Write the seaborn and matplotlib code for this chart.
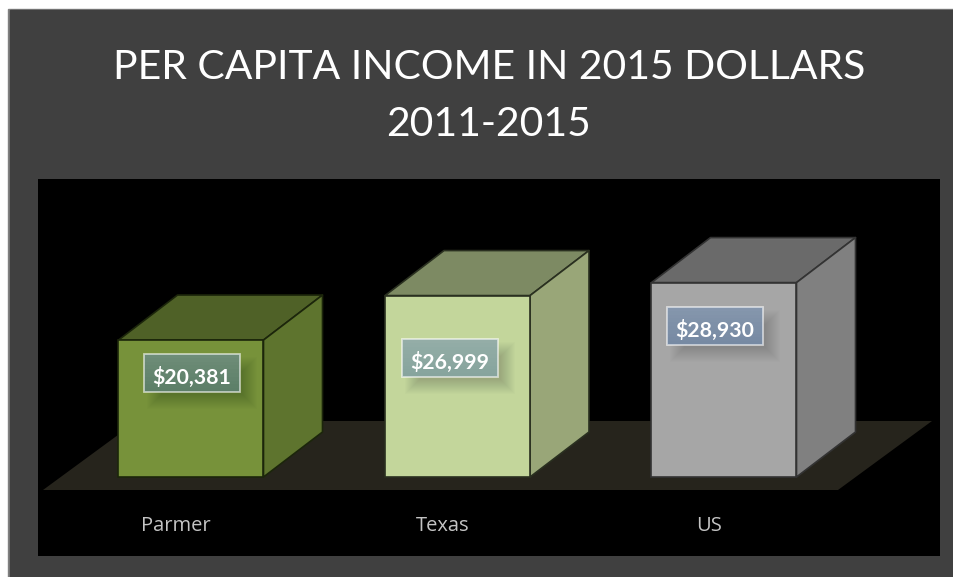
import matplotlib
matplotlib.use('Agg')
import matplotlib.pyplot as plt
from matplotlib.patches import Polygon, Rectangle
from matplotlib.transforms import ScaledTranslation
import seaborn as sns

# --- data ---
places = ['Parmer', 'Texas', 'US']
income = [20381, 26999, 28930]
value_labels = ['$20,381', '$26,999', '$28,930']

# --- colours ---
face_colors = ['#77923a', '#c3d69b', '#a6a6a6']
top_colors = ['#4f6127', '#7d8a63', '#6a6a6a']
side_colors = ['#5e742e', '#99a678', '#808080']
edge_colors = ['#1c260b', '#2a3020', '#333333']

# --- layout, px of the 954x577 canvas ---
W, H = 954, 577
PANEL = (38, 179, 940, 556)   # black plot area
BASE_Y = 477                  # pixel row of income = 0
PX_PER_USD = 0.00672
PX_PER_CAT = 266.5
FIRST_X = 191

sns.set_theme(style='white')
plt.rcParams['font.family'] = ['Lato', 'DejaVu Sans']

fig = plt.figure(figsize=(W / 100, H / 100), dpi=100, facecolor='white')
fig.patches.append(Rectangle((8 / W, 0), 1, 1 - 9 / H, transform=fig.transFigure, color='#808080', zorder=-3))
fig.patches.append(Rectangle((10 / W, 0), 1, 1 - 10 / H, transform=fig.transFigure, color='#404040', zorder=-2))

ax = fig.add_axes([PANEL[0] / W, 1 - PANEL[3] / H, (PANEL[2] - PANEL[0]) / W, (PANEL[3] - PANEL[1]) / H])
ax.set_facecolor('black')

sns.barplot(x=places, y=income, hue=places, palette=face_colors, saturation=1, width=145 / PX_PER_CAT,
            edgecolor='none', legend=False, ax=ax, zorder=3)

ax.set_xlim((PANEL[0] - FIRST_X) / PX_PER_CAT, (PANEL[2] - FIRST_X) / PX_PER_CAT)
ax.set_ylim((BASE_Y - PANEL[3]) / PX_PER_USD, (BASE_Y - PANEL[1]) / PX_PER_USD)

depth_x = 59 / PX_PER_CAT
depth_y = 45 / PX_PER_USD

# floor under the bars
floor_front = -13 / PX_PER_USD
floor_back = 56 / PX_PER_USD
floor_left = (43 - FIRST_X) / PX_PER_CAT
floor_right = (838 - FIRST_X) / PX_PER_CAT
floor_shift = 94 / PX_PER_CAT
ax.add_patch(Polygon([(floor_left, floor_front), (floor_right, floor_front),
                      (floor_right + floor_shift, floor_back), (floor_left + floor_shift, floor_back)],
                     closed=True, facecolor='#26241c', edgecolor='none', zorder=1))

# 3d sides built from the bars seaborn drew
for i, bar in enumerate(ax.patches[:len(places)]):
    x0 = bar.get_x()
    x1 = x0 + bar.get_width()
    h = bar.get_height()
    bar.set_edgecolor(edge_colors[i])
    bar.set_linewidth(1.2)
    ax.add_patch(Polygon([(x0, h), (x1, h), (x1 + depth_x, h + depth_y), (x0 + depth_x, h + depth_y)],
                         closed=True, facecolor=top_colors[i], edgecolor=edge_colors[i], lw=1.2, joinstyle='round', zorder=2))
    ax.add_patch(Polygon([(x1, 0), (x1 + depth_x, depth_y), (x1 + depth_x, h + depth_y), (x1, h)],
                         closed=True, facecolor=side_colors[i], edgecolor=edge_colors[i], lw=1.2, joinstyle='round', zorder=2))

# value boxes, with a soft shadow
label_dx = [1, -7.5, -9]     # px from the bar centre
label_dy = [104, 119, 151]   # px above the baseline
box_w = 96 / PX_PER_CAT
box_h = 38 / PX_PER_USD
for i, txt in enumerate(value_labels):
    cx = i + label_dx[i] / PX_PER_CAT
    cy = label_dy[i] / PX_PER_USD
    x_left = cx - box_w / 2
    y_low = cy - box_h / 2
    # shadow: stack of growing rectangles
    for px in range(-7, 8):
        gx = px / PX_PER_CAT
        gy = px / PX_PER_USD
        ax.add_patch(Rectangle((x_left + 10 / PX_PER_CAT - gx, y_low - 10 / PX_PER_USD - gy),
                               box_w + 2 * gx, box_h + 2 * gy, facecolor='black', edgecolor='none',
                               alpha=0.013, zorder=4))
    ax.add_patch(Rectangle((x_left, y_low), box_w, box_h, facecolor=face_colors[i], edgecolor='none', zorder=4.5))
    ax.add_patch(Rectangle((x_left, y_low), box_w, box_h, facecolor='#3f69a1', edgecolor='none', alpha=0.45, zorder=5))
    # lighter toward the top of the box
    for band in range(10):
        ax.add_patch(Rectangle((x_left, y_low + box_h * band / 10), box_w, box_h / 10, facecolor='white',
                               edgecolor='none', alpha=0.012 * band, zorder=5))
    ax.add_patch(Rectangle((x_left, y_low), box_w, box_h, facecolor='none',
                           edgecolor='#ffffff', alpha=0.6, lw=1.3, zorder=6))
    ax.text(cx, cy - 2 / PX_PER_USD, txt, color='white', fontsize=15.3, fontweight='bold', ha='center',
            va='center_baseline', zorder=7)

ax.set_title('PER CAPITA INCOME IN 2015 DOLLARS\n2011-2015', color='white', fontsize=29.4, pad=31, linespacing=1.67)
ax.set_yticks([])
ax.set_xticks(range(len(places)))
ax.set_xticklabels(places)
ax.tick_params(axis='x', length=0, pad=-29, colors='#c4c4c4', labelsize=14.5)
for lab in ax.get_xticklabels():
    lab.set_fontfamily('Open Sans')
    lab.set_transform(lab.get_transform() + ScaledTranslation(-15 / 100, 0, fig.dpi_scale_trans))
ax.set_xlabel('')
ax.set_ylabel('')
sns.despine(ax=ax, left=True, bottom=True)

fig.savefig('out.png', dpi=100, facecolor=fig.get_facecolor())
